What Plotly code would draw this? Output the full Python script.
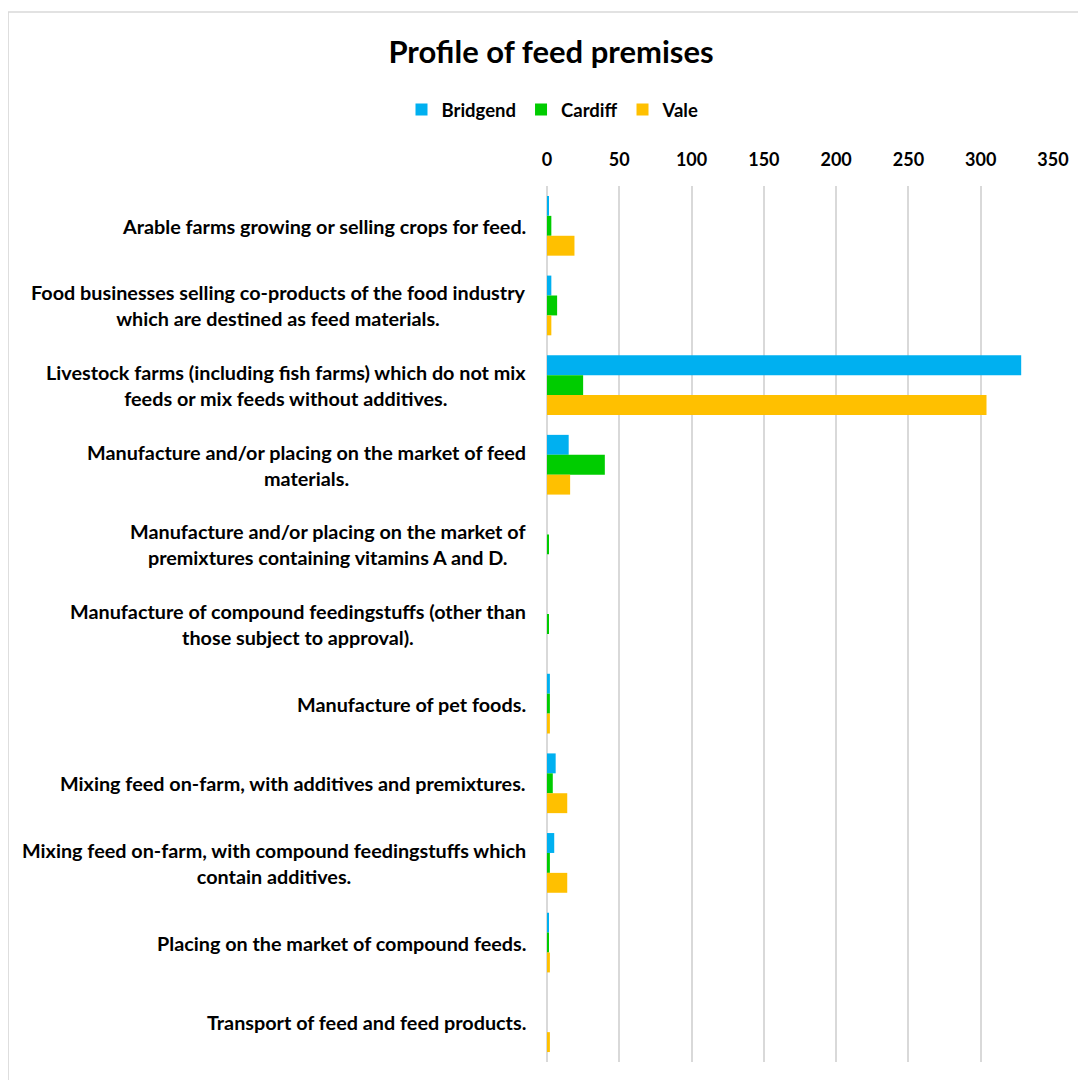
import plotly.graph_objects as go

categories = [
    "Arable farms growing or selling crops for feed.",
    "Food businesses selling co-products of the food industry which are destined as feed materials.",
    "Livestock farms (including fish farms) which do not mix feeds or mix feeds without additives.",
    "Manufacture and/or placing on the market of feed materials.",
    "Manufacture and/or placing on the market of premixtures containing vitamins A and D.",
    "Manufacture of compound feedingstuffs (other than those subject to approval).",
    "Manufacture of pet foods.",
    "Mixing feed on-farm, with additives and premixtures.",
    "Mixing feed on-farm, with compound feedingstuffs which contain additives.",
    "Placing on the market of compound feeds.",
    "Transport of feed and feed products.",
]
tick_labels = [
    "Arable farms growing or selling crops for feed.",
    "Food businesses selling co-products of the food industry<br>which are destined as feed materials.",
    "Livestock farms (including fish farms) which do not mix<br>feeds or mix feeds without additives.",
    "Manufacture and/or placing on the market of feed<br>materials.",
    "Manufacture and/or placing on the market of<br>premixtures containing vitamins A and D.",
    "Manufacture of compound feedingstuffs (other than<br>those subject to approval).",
    "Manufacture of pet foods.",
    "Mixing feed on-farm, with additives and premixtures.",
    "Mixing feed on-farm, with compound feedingstuffs which<br>contain additives.",
    "Placing on the market of compound feeds.",
    "Transport of feed and feed products.",
]
bridgend = [1, 3, 328, 15, 0, 0, 2, 6, 5, 1, 0]
cardiff = [3, 7, 25, 40, 1, 1, 2, 4, 2, 1, 0]
vale = [19, 3, 304, 16, 0, 0, 2, 14, 14, 2, 2]
x_ticks = [0, 50, 100, 150, 200, 250, 300, 350]

FONT = "Lato"
W, H = 1078, 1072
fig = go.Figure()
for name, vals, color in [("Bridgend", bridgend, "#00B0F0"),
                          ("Cardiff", cardiff, "#00CC00"),
                          ("Vale", vale, "#FFC000")]:
    fig.add_trace(go.Bar(y=categories, x=vals, name=name, orientation="h",
                         marker=dict(color=color, line=dict(width=0))))

for cat, lab in zip(categories, tick_labels):
    fig.add_annotation(x=0, xref="paper", y=cat, yref="y", text=lab,
                       xanchor="right", yanchor="middle", align="center",
                       xshift=-19, showarrow=False,
                       font=dict(family=FONT, size=19.8, color="#000000", weight="bold"))

fig.add_shape(type="rect", xref="paper", yref="paper",
              x0=-1.065, x1=1.2, y0=-0.2, y1=1.1986,
              line=dict(color="#D9D9D9", width=1.5), fillcolor="rgba(0,0,0,0)")

fig.update_layout(
    width=W, height=H,
    margin=dict(l=539, r=33, t=178, b=18),
    paper_bgcolor="white", plot_bgcolor="white",
    barmode="group", bargap=0.25, bargroupgap=0,
    title=dict(text="<b>Profile of feed premises</b>", x=543 / W, xref="container",
               y=1 - 44 / H, yref="container", xanchor="center", yanchor="middle",
               font=dict(family=FONT, size=31, color="#000000")),
    legend=dict(orientation="h", x=545 / W, xref="container", xanchor="center",
                y=1 - 102 / H, yref="container", yanchor="middle",
                font=dict(family=FONT, size=18.5, color="#000000", weight="bold"),
                itemwidth=30, traceorder="normal"),
    xaxis=dict(side="top", range=[0, 350], tickvals=x_ticks,
               ticktext=[str(v) for v in x_ticks],
               showgrid=True, gridcolor="#D9D9D9", gridwidth=1.5,
               zeroline=True, zerolinecolor="#D9D9D9", zerolinewidth=1.5,
               showline=False, ticks="", ticklabelstandoff=15,
               tickfont=dict(family=FONT, size=18, color="#000000", weight="bold")),
    yaxis=dict(autorange="reversed", showticklabels=False, showgrid=False,
               zeroline=False, showline=False, ticks=""),
)

fig.write_html("out.html")
